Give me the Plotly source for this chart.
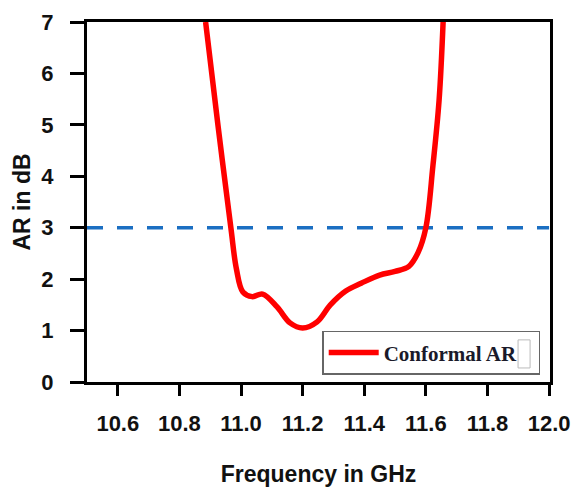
import plotly.graph_objects as go

# Axial ratio of the conformal antenna versus frequency
freq_ghz = [10.885, 10.925, 10.967, 10.985, 11.006, 11.036, 11.070,
            11.117, 11.159, 11.200, 11.247, 11.290, 11.340, 11.390,
            11.450, 11.500, 11.545, 11.575, 11.600, 11.623, 11.643, 11.656]
ar_db = [7.00, 5.00, 3.00, 2.20, 1.75, 1.66, 1.71,
         1.46, 1.15, 1.05, 1.17, 1.50, 1.77, 1.92,
         2.08, 2.15, 2.25, 2.52, 3.00, 4.21, 5.48, 7.00]

# 3 dB axial-ratio limit
limit_x = [10.5, 12.0]
limit_y = [3, 3]

x_ticks = [10.6, 10.8, 11.0, 11.2, 11.4, 11.6, 11.8, 12.0]
y_ticks = [0, 1, 2, 3, 4, 5, 6, 7]

fig = go.Figure()

fig.add_trace(go.Scatter(
    x=limit_x, y=limit_y, mode="lines", showlegend=False,
    line=dict(color="#1b6fc2", width=3.5, dash="16px,14px"),
    hoverinfo="skip",
))

fig.add_trace(go.Scatter(
    x=freq_ghz, y=ar_db, mode="lines", name="Conformal AR",
    line=dict(color="#ff0000", width=5.5, shape="spline", smoothing=1.0),
))

tick_font = dict(family="Liberation Sans, Arial, sans-serif", size=22,
                 color="#111111", weight="bold")
title_font = dict(family="Liberation Sans, Arial, sans-serif", size=23,
                  color="#111111", weight="bold")

fig.update_layout(
    width=574, height=487,
    margin=dict(l=87, r=24, t=22, b=105),
    paper_bgcolor="white", plot_bgcolor="white",
    xaxis=dict(
        range=[10.5, 12.003], tickmode="array", tickvals=x_ticks,
        ticktext=[f"{v:.1f}" for v in x_ticks], automargin=False,
        ticks="outside", ticklen=11, tickwidth=3, tickcolor="black",
        showline=True, linewidth=3, linecolor="black", mirror=True,
        showgrid=False, zeroline=False, tickfont=tick_font,
        ticklabelstandoff=9,
        title=dict(text="Frequency in GHz", font=title_font, standoff=31),
    ),
    yaxis=dict(
        range=[0, 7], tickmode="array", tickvals=y_ticks, automargin=False,
        ticks="outside", ticklen=14, tickwidth=3, tickcolor="black",
        showline=True, linewidth=3, linecolor="black", mirror=True,
        showgrid=False, zeroline=False, tickfont=tick_font,
        ticklabelstandoff=12,
        title=dict(text="AR in dB", font=title_font, standoff=5),
    ),
    legend=dict(
        orientation="h",
        x=0.508, y=0.142, xanchor="left", yanchor="top",
        bgcolor="rgba(0,0,0,0)", bordercolor="#666666", borderwidth=1.5,
        font=dict(family="Liberation Serif, Times New Roman, serif", size=21,
                  color="#1a1a2a", weight="bold"),
        itemwidth=50, entrywidth=150, entrywidthmode="pixels",
    ),
    shapes=[dict(type="rect", xref="paper", yref="paper",
                 x0=0.931, x1=0.957, y0=0.039, y1=0.117,
                 line=dict(color="#bbbbbb", width=1))],
)

fig.write_html("out.html")
